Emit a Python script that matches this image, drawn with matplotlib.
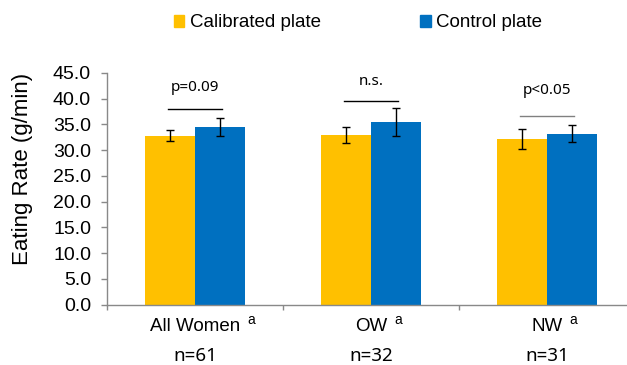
import numpy as np
import matplotlib.pyplot as plt
from matplotlib.patches import Patch

plt.rcParams['font.family'] = ['Liberation Sans', 'DejaVu Sans']

groups = ['All Women', 'OW', 'NW']
n_labels = ['n=61', 'n=32', 'n=31']
calibrated = [32.8, 33.0, 32.2]
calibrated_err = [1.1, 1.6, 1.9]
control = [34.5, 35.5, 33.2]
control_err = [1.7, 2.7, 1.65]

# significance brackets: text, bar height, text height
sig_text = ['p=0.09', 'n.s.', 'p<0.05']
sig_line = [38.0, 39.6, 36.6]
sig_text_y = [42.2, 43.4, 41.6]
sig_color = ['black', 'black', '#808080']

yellow = '#FFC000'
blue = '#0070C0'
axis_gray = '#898989'

fig = plt.figure(figsize=(6.27, 3.65), dpi=100)
ax = fig.add_axes([107/627, 60.5/365, 528/627, 231.5/365])

x = np.arange(len(groups))
w = 0.284
ax.bar(x - w/2, calibrated, w, color=yellow, yerr=calibrated_err,
       error_kw=dict(ecolor='black', elinewidth=1, capsize=3, capthick=1))
ax.bar(x + w/2, control, w, color=blue, yerr=control_err,
       error_kw=dict(ecolor='black', elinewidth=1, capsize=3, capthick=1))

for i in range(len(groups)):
    ax.plot([i - 0.153, i + 0.153], [sig_line[i], sig_line[i]],
            color=sig_color[i], lw=1)
    ax.text(i, sig_text_y[i], sig_text[i], ha='center', va='center',
            fontsize=11, family=['Noto Sans', 'DejaVu Sans'])

ax.set_xlim(-0.5, 2.5)
ax.set_ylim(0, 45)
ax.set_yticks(np.arange(0, 46, 5))
ax.set_yticklabels(['%.1f' % v for v in np.arange(0, 46, 5)])
ax.set_xticks([-0.5, 0.5, 1.5, 2.5])
ax.set_xticklabels([])

for s in ['top', 'right']:
    ax.spines[s].set_visible(False)
for s in ['left', 'bottom']:
    ax.spines[s].set_color(axis_gray)
    ax.spines[s].set_linewidth(1)
ax.tick_params(axis='y', length=4.5, width=1, color=axis_gray, pad=7,
               labelsize=14, labelcolor='black')
ax.tick_params(axis='x', length=3.5, width=1, color=axis_gray)

ax.set_ylabel('Eating Rate (g/min)', fontsize=16)
ax.yaxis.set_label_coords(-0.140, 0.585)

trans = ax.get_xaxis_transform()
cat_labels = []
for i in range(len(groups)):
    t = ax.text(i, -0.096, groups[i], transform=trans, ha='center',
                va='center', fontsize=13.5)
    cat_labels.append(t)
    ax.text(i, -0.222, n_labels[i], transform=trans, ha='center',
            va='center', fontsize=13.5, family=['Noto Sans', 'DejaVu Sans'])

# superscript "a" after each group name
fig.canvas.draw()
for t in cat_labels:
    ax.annotate('a', xy=(1, 1), xycoords=t, xytext=(5, -1),
                textcoords='offset points', ha='left', va='center',
                fontsize=10)

handles = [Patch(color=yellow, label='Calibrated plate'),
           Patch(color=blue, label='Control plate')]
fig.legend(handles=handles, loc='center', bbox_to_anchor=(0.571, 0.937),
           ncol=2, frameon=False, fontsize=13.5, handlelength=0.55,
           handleheight=0.55, handletextpad=0.3, columnspacing=5.3)

fig.savefig('out.png', dpi=100)
